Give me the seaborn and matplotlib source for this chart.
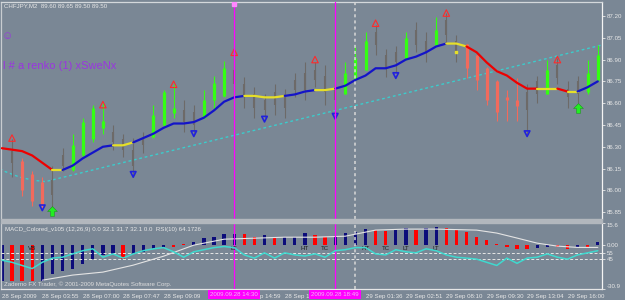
import numpy as np
import pandas as pd
import seaborn as sns
import matplotlib.pyplot as plt
import matplotlib.transforms as mtransforms
from matplotlib.patches import Rectangle
from matplotlib.path import Path

sns.set_style("white")
plt.rcParams['font.family'] = ['Liberation Sans', 'DejaVu Sans']

# ---- price bars (index 0 = first full bar on the left) ----
# u = bull (green), d = bear (red), n = neutral (grey)
bar_kind = ("ndddnnuuuu" "nnnnuuunnu" "uunnnnnnnn"
            "nnnuuunnnu" "nnunnddddd" "dnnunnnuu")
highs = [86.35, 86.22, 86.13, 86.09, 86.17, 86.29, 86.39, 86.50, 86.59, 86.60,
         86.45, 86.39, 86.36, 86.40, 86.59, 86.69, 86.73, 86.62, 86.59, 86.69,
         86.79, 86.89, 86.92, 86.78, 86.71, 86.66, 86.73, 86.70, 86.81, 86.88,
         86.88, 86.86, 86.73, 86.88, 86.99, 87.09, 87.14, 86.97, 86.99, 87.09,
         87.16, 87.09, 87.19, 87.22, 87.07, 87.01, 86.93, 86.85, 86.76, 86.69,
         86.77, 86.73, 86.79, 86.90, 86.91, 86.75, 86.79, 86.90, 87.00]
lows = [86.09, 85.96, 85.89, 85.88, 85.86, 86.13, 86.13, 86.22, 86.33, 86.39,
        86.28, 86.23, 86.09, 86.26, 86.36, 86.44, 86.50, 86.40, 86.39, 86.50,
        86.55, 86.64, 86.66, 86.57, 86.50, 86.50, 86.52, 86.50, 86.64, 86.62,
        86.71, 86.59, 86.54, 86.66, 86.76, 86.83, 86.93, 86.78, 86.81, 86.90,
        86.95, 86.88, 86.99, 87.01, 86.88, 86.77, 86.69, 86.59, 86.48, 86.48,
        86.48, 86.39, 86.60, 86.66, 86.73, 86.57, 86.60, 86.66, 86.75]
opens = [86.27, 86.20, 86.11, 86.06, 86.07, 86.24, 86.14, 86.24, 86.35, 86.43,
         86.40, 86.35, 86.28, 86.36, 86.37, 86.45, 86.53, 86.55, 86.54, 86.50,
         86.62, 86.65, 86.83, 86.73, 86.66, 86.62, 86.68, 86.66, 86.76, 86.81,
         86.83, 86.79, 86.69, 86.66, 86.76, 86.83, 87.09, 86.93, 86.95, 86.91,
         87.10, 87.03, 87.00, 87.17, 87.03, 87.01, 86.93, 86.84, 86.75, 86.64,
         86.62, 86.68, 86.75, 86.66, 86.86, 86.70, 86.75, 86.68, 86.76]
closes = [86.19, 86.00, 85.93, 85.90, 85.97, 86.17, 86.31, 86.47, 86.57, 86.48,
          86.33, 86.28, 86.17, 86.31, 86.52, 86.68, 86.57, 86.47, 86.45, 86.62,
          86.74, 86.84, 86.73, 86.64, 86.57, 86.55, 86.59, 86.57, 86.69, 86.69,
          86.76, 86.68, 86.62, 86.81, 86.91, 87.03, 87.00, 86.84, 86.88, 87.05,
          87.00, 86.95, 87.10, 87.07, 86.95, 86.84, 86.76, 86.62, 86.54, 86.62,
          86.58, 86.55, 86.66, 86.83, 86.77, 86.64, 86.66, 86.81, 86.93]

# ---- coloured moving average, starts one bar left of bar 0 ----
ma_vals = [86.29, 86.28, 86.27, 86.24, 86.19, 86.14, 86.14, 86.17, 86.22, 86.26, 86.30,
           86.31, 86.31, 86.33, 86.36, 86.39, 86.43, 86.46, 86.46, 86.47, 86.50,
           86.55, 86.61, 86.64, 86.65, 86.65, 86.64, 86.64, 86.65, 86.66, 86.68,
           86.69, 86.69, 86.70, 86.72, 86.76, 86.79, 86.84, 86.84, 86.86, 86.90,
           86.92, 86.95, 86.99, 87.01, 87.01, 86.99, 86.95, 86.88, 86.82, 86.79,
           86.74, 86.70, 86.70, 86.70, 86.70, 86.68, 86.68, 86.71, 86.75]
# state of each segment between consecutive MA points
ma_state = ("rrrrry" "bbbbb" "yy" "bbbbbbbbbbb" "yyyy" "bbb" "yy"
            "bbbbbbbbbbb" "yy" "rrrrrrr" "yy" "r" "y" "bb")

# dotted cyan trend line
trend_idx = [-1.2, -0.7, 0.8, 2.1, 3.3, 58.4]
trend_px = [86.15, 86.13, 86.09, 86.07, 86.06, 87.00]

# signal arrows
red_idx = [0, 9, 16, 22, 30, 36, 43, 54]
red_px = [86.36, 86.59, 86.73, 86.95, 86.90, 87.15, 87.22, 86.90]
blue_idx = [3, 12, 18, 25, 32, 38, 51]
blue_px = [85.88, 86.11, 86.39, 86.49, 86.51, 86.79, 86.39]
green_idx = [4, 56]
green_px = [85.86, 86.57]

price_ticks = [85.85, 86.00, 86.15, 86.30, 86.45, 86.60, 86.75, 86.90, 87.05, 87.20]

# ---- MACD / RSI sub window ----
macd_kind = ("n" "rrrnnnnnnn" "nrnnnnrrnn" "nnnrrnrnnn"
             "rrnnnnrrnn" "rnnrrrrrrr" "rrnnrrnrn")
macd_vals = [-25,
             -25, -25, -25.5, -25, -20, -18.5, -16.5, -13, -9.5, -7,
             -6.5, -9.5, -6, -4.5, -2.5, -1, -1, 1, 2, 5,
             5.5, 8, 7.5, 7.5, 6, 7, 5.5, 6, 5.5, 8.5,
             7, 6, 6, 8.5, 9.5, 11.5, 10.7, 10.2, 10.7, 12,
             10.7, 12, 13, 12, 10.7, 9, 6, 3.6, 1, -1.2,
             -3, -3, -2.3, -1, -1.5, -2.5, -1, -1, 2]
sig_idx = [3, 6, 9, 12, 15, 18, 21, 24, 27, 30, 33, 36, 39, 42, 46, 48, 50, 52, 54, 56, 58]
sig_vals = [-24.7, -21.1, -19.0, -14.1, -7.8, 0.0, 4.2, 4.9, 5.6, 5.6, 6.3,
            10.6, 11.3, 11.3, 10.6, 8.5, 5.0, 1.4, -0.7, -1.6, -1.6]
rsi_vals = [43,
            39.5, 34.2, 29, 39.5, 46.5, 48, 53.5, 58.8, 62, 48,
            53.5, 46.5, 53.5, 58.8, 62, 64, 57, 48, 57, 60.5,
            64, 65.8, 64, 51.8, 46.5, 55.3, 46.5, 55.3, 51.8, 50,
            53.5, 48, 58.8, 60.5, 64, 64, 53.5, 51.8, 60.5, 57,
            55.3, 62, 58.8, 51.8, 48, 46.5, 44.8, 39.5, 34.2, 46.5,
            37.8, 46.5, 48, 53.5, 48, 44.8, 51.8, 55.3, 58.8]
note_idx = [2, 22, 29, 31, 35, 37, 39, 42]
note_txt = ['VB', 'LT', 'HT', 'TC', 'HT', 'TC', 'LT', 'LT']

# labels fully hidden under the cursor boxes are left blank
date_idx = [-1, 3, 7, 11, 15, 19, 23, 27, 31, 35, 39, 43, 47, 51, 55]
date_txt = ['28 Sep 2009', '28 Sep 03:55', '28 Sep 07:00', '28 Sep 07:47',
            '28 Sep 09:09', '', '28 Sep 14:59', '28 Sep 16:12',
            '', '29 Sep 01:36', '29 Sep 02:51', '29 Sep 08:10',
            '29 Sep 09:30', '29 Sep 13:04', '29 Sep 16:00']
cursor_idx = [22, 32]
cursor_txt = ['2009.09.28 14:30', '2009.09.28 18:49']

BG = '#7a8795'
TXT = '#e8e8e8'
FS = 4.4
kind_col = {'u': '#33ff11', 'd': '#f26a5c', 'n': '#6d6a68'}
ma_col = {'r': '#ee0000', 'y': '#e6df28', 'b': '#1414c8'}

bars = pd.DataFrame({'idx': np.arange(len(highs)), 'high': highs, 'low': lows,
                     'open': opens, 'close': closes, 'kind': list(bar_kind)})
bars['top'] = bars[['open', 'close']].max(axis=1)
bars['bot'] = bars[['open', 'close']].min(axis=1)

fig = plt.figure(figsize=(6.25, 3.0), dpi=100)
fig.patch.set_facecolor(BG)
ax = fig.add_axes([1 / 625, 81 / 300, 601 / 625, 217 / 300])
ax_low = fig.add_axes([1 / 625, 11 / 300, 601 / 625, 66 / 300])
for a in (ax, ax_low):
    a.set_facecolor(BG)
    a.set_xlim(-11 / 10.1, 590 / 10.1)

# separator between the two windows
fig.patches.append(Rectangle((1 / 625, 77 / 300), 601 / 625, 4 / 300,
                             transform=fig.transFigure, color='#b2b7bd', zorder=0))

# ---------------- main window ----------------
ax.set_ylim(85.803, 87.296)

# trend line
sns.lineplot(x=trend_idx, y=trend_px, ax=ax, color='#3ccccc', lw=1.0,
             linestyle=(0, (2, 2)), zorder=2)

# candles
for k, col in kind_col.items():
    sub = bars[bars['kind'] == k]
    ax.vlines(sub['idx'], sub['low'], sub['high'], color=col, lw=0.8, zorder=3)
    ax.vlines(sub['idx'], sub['bot'], sub['top'], color=col,
              lw=1.5 if k == 'n' else 2.3, zorder=3)

# moving average in coloured runs
ma_idx = np.arange(-1, len(ma_vals) - 1)
start = 0
for k in range(1, len(ma_state) + 1):
    if k == len(ma_state) or ma_state[k] != ma_state[start]:
        sns.lineplot(x=ma_idx[start:k + 1], y=ma_vals[start:k + 1], ax=ax,
                     color=ma_col[ma_state[start]], lw=1.6, zorder=4)
        start = k

# arrows
ax.scatter(red_idx, red_px, marker='^', s=22, facecolors='none',
           edgecolors='#ff2a2a', linewidths=0.8, zorder=5)
ax.scatter(blue_idx, blue_px, marker='v', s=16, facecolors='none',
           edgecolors='#2222dd', linewidths=1.2, zorder=5)
up_arrow = Path([(0, 1), (-1, 0), (-0.4, 0), (-0.4, -1), (0.4, -1), (0.4, 0), (1, 0), (0, 1)])
ax.scatter(green_idx, green_px, marker=up_arrow, s=50, color='#22ee22',
           edgecolors='#118811', linewidths=0.3, zorder=5)
ax.scatter([44], [86.95], marker='s', s=2, color='#e6df28', zorder=5)

# cursor lines
for a in (ax, ax_low):
    for ci in cursor_idx:
        a.axvline(ci, color='#ff00ff', lw=0.9, zorder=6)
    a.axvline(34, color='#d8d8d8', lw=1.1, ls=(0, (2, 2)), zorder=6)
ax.plot([22], [0.992], 's', color='#ff88ff', ms=2.2, zorder=7,
        transform=mtransforms.blended_transform_factory(ax.transData, ax.transAxes))

# axis styling
ax.yaxis.tick_right()
ax.set_yticks(price_ticks)
ax.set_yticklabels([f'{v:.2f}' for v in price_ticks])
ax.tick_params(axis='y', colors=TXT, labelsize=FS, length=2, width=0.6, pad=1.5)
ax.set_xticks([])
for side, col in [('top', '#d4d8dc'), ('left', '#c8ccd0'), ('right', '#f4f4f4')]:
    ax.spines[side].set_color(col)
    ax.spines[side].set_linewidth(0.9)
ax.spines['bottom'].set_visible(False)

ax.text(0.005, 0.982, 'CHFJPY,M2  89.60 89.65 89.50 89.50', transform=ax.transAxes,
        fontsize=FS, color=TXT, va='center', ha='left')
ax.text(0.01, 0.845, '\u263a', transform=ax.transAxes, fontsize=8,
        color='#9a35e0', va='center', ha='center')
ax.text(0.003, 0.705, 'l # a renko (1) xSweNx', transform=ax.transAxes,
        fontsize=8, color='#9a35e0', va='center', ha='left')

# ---------------- MACD / RSI window ----------------
ax_low.set_ylim(-30.9, 15.6)
macd_idx = np.arange(-1, len(macd_vals) - 1)
ax_low.bar(macd_idx, macd_vals, width=0.32, linewidth=0, edgecolor='none',
           color=['#0c0c7a' if c == 'n' else '#ff0000' for c in macd_kind], zorder=2)
sns.lineplot(x=sig_idx, y=sig_vals, ax=ax_low, color='#e4e4e4', lw=0.8, zorder=3)

ax_rsi = ax_low.twinx()
ax_rsi.set_ylim(-5, 105)
ax_rsi.axhline(55, color='#e6e6e6', lw=0.7, ls=(0, (3, 2)))
ax_rsi.axhline(45, color='#e6e6e6', lw=0.7, ls=(0, (3, 2)))
sns.lineplot(x=np.arange(-1, len(rsi_vals) - 1), y=rsi_vals, ax=ax_rsi,
             color='#3fd9cf', lw=1.1, zorder=4)
for ni, nt in zip(note_idx, note_txt):
    ax_rsi.text(ni, 62, nt, fontsize=FS, color='#1e1e1e', ha='center', va='center')
ax_rsi.set_yticks([55, 45])
ax_rsi.set_yticklabels(['55', '45'])
ax_rsi.tick_params(axis='y', colors=TXT, labelsize=FS, length=2, width=0.6, pad=1.5)
for s in ax_rsi.spines.values():
    s.set_visible(False)

ax_low.yaxis.tick_right()
ax_low.set_yticks([15.6, 0.0, -30.9])
ylabs = ax_low.set_yticklabels(['15.6', '0.00', '-30.9'])
ylabs[0].set_va('top')
ylabs[2].set_va('bottom')
ax_low.tick_params(axis='y', colors=TXT, labelsize=FS, length=2, width=0.6, pad=1.5)

ax_low.set_xticks(date_idx)
ax_low.set_xticklabels(date_txt, ha='left')
ax_low.tick_params(axis='x', colors=TXT, labelsize=FS, length=2.5, width=0.6, pad=1.2)
ax_low.spines['top'].set_visible(False)
for side, col in [('left', '#c8ccd0'), ('right', '#f4f4f4'), ('bottom', '#e6e6e6')]:
    ax_low.spines[side].set_color(col)
    ax_low.spines[side].set_linewidth(0.9)

ax_low.text(0.006, 0.9, 'MACD_Colored_v105 (12,26,9) 0.0 32.1 31.7 32.1 0.0  RSI(10) 64.1726',
            transform=ax_low.transAxes, fontsize=FS, color=TXT, va='center', ha='left')
ax_low.text(0.005, 0.07, 'Zaderno FX Trader, \u00a9 2001-2009 MetaQuotes Software Corp.',
            transform=ax_low.transAxes, fontsize=FS, color='#dedede', va='center', ha='left',
            zorder=6)

# magenta cursor time boxes over the date scale
blend = mtransforms.blended_transform_factory(ax_low.transData, ax_low.transAxes)
for ci, ct in zip(cursor_idx, cursor_txt):
    ax_low.text(ci, -0.045, ct, transform=blend, fontsize=FS, color='#f4b8f4',
                ha='center', va='top', clip_on=False, zorder=10,
                bbox=dict(boxstyle='square,pad=0.35', fc='#ff00ff', ec='none'))

fig.savefig('out.png', dpi=100, facecolor=BG)
